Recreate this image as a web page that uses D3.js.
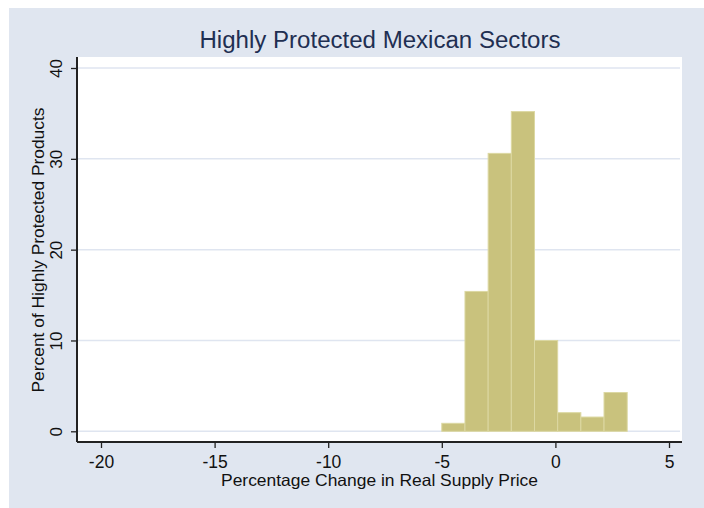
<!DOCTYPE html>
<html><head><meta charset="utf-8">
<script src="https://cdn.jsdelivr.net/npm/d3@7"></script>
<style>body{margin:0;background:#fff}svg{display:block}text{font-family:"Liberation Sans",Arial,sans-serif}</style>
</head><body>
<svg id="c" width="704" height="508"></svg>
<script>
const binStarts = [-5.0, -3.98, -2.96, -1.94, -0.92, 0.10, 1.12, 2.14];
const binWidth = 1.02;
const percents = [0.88, 15.4, 30.6, 35.2, 10.0, 2.05, 1.57, 4.27];
const xTicks = [-20, -15, -10, -5, 0, 5];
const yTicks = [0, 10, 20, 30, 40];
const title = "Highly Protected Mexican Sectors";
const xTitle = "Percentage Change in Real Supply Price";
const yTitle = "Percent of Highly Protected Products";

const svg = d3.select("#c");
svg.append("rect").attr("x",9).attr("y",8).attr("width",695).attr("height",500).attr("fill","#e0e6f0");
const L=77, T=57, R=682, B=442;
svg.append("rect").attr("x",L).attr("y",T).attr("width",R-L).attr("height",B-T).attr("fill","#fff");
const x = d3.scaleLinear().domain([-20,5]).range([101,669]);
const y = d3.scaleLinear().domain([0,40]).range([431.3,68]);
// gridlines
svg.append("g").selectAll("line").data(yTicks).join("line")
  .attr("x1",L+1).attr("x2",R-2).attr("y1",d=>y(d)).attr("y2",d=>y(d))
  .attr("stroke","#dfe5f0").attr("stroke-width",1.5);
// bars
svg.append("g").selectAll("rect").data(percents).join("rect")
  .attr("x",(d,i)=>x(binStarts[i]))
  .attr("width",(d,i)=>x(binStarts[i]+binWidth)-x(binStarts[i]))
  .attr("y",d=>y(d)).attr("height",d=>y(0)-y(d))
  .attr("fill","#c9c27d").attr("stroke","#dcd8a2").attr("stroke-width",1);
// axes
const xa = svg.append("g").attr("transform",`translate(0,${B})`)
  .call(d3.axisBottom(x).tickValues(xTicks).tickSize(6).tickFormat(d3.format("d")));
xa.select(".domain").attr("d",`M${L},0H${R}`).attr("stroke","#222").attr("stroke-width",2);
xa.selectAll(".tick line").attr("stroke","#222").attr("stroke-width",1.3);
xa.selectAll(".tick text").attr("font-size",17.5).attr("fill","#111").attr("font-family","Liberation Sans, Arial, sans-serif")
  .attr("y",26).attr("dy","0").text(d=>d<0?"-"+Math.abs(d):d);
const ya = svg.append("g").attr("transform",`translate(${L},0)`)
  .call(d3.axisLeft(y).tickValues(yTicks).tickSize(6).tickFormat(d3.format("d")));
ya.select(".domain").attr("d",`M0,${T}V${B}`).attr("stroke","#222").attr("stroke-width",2);
ya.selectAll(".tick line").attr("stroke","#222").attr("stroke-width",1.3);
ya.selectAll(".tick text").attr("font-size",17).attr("fill","#111").attr("font-family","Liberation Sans, Arial, sans-serif")
  .attr("transform","rotate(-90)").attr("x",0).attr("y",-15).attr("dy","0").attr("text-anchor","middle");
// titles
svg.append("text").attr("x",380).attr("y",48).attr("text-anchor","middle").attr("font-size",23)
  .attr("fill","#1f2f52").attr("textLength",361).attr("lengthAdjust","spacingAndGlyphs").text(title);
svg.append("text").attr("x",379.5).attr("y",486).attr("text-anchor","middle").attr("font-size",16.5)
  .attr("fill","#111").attr("textLength",317).attr("lengthAdjust","spacingAndGlyphs").text(xTitle);
svg.append("text").attr("transform","translate(44,250) rotate(-90)").attr("text-anchor","middle").attr("font-size",16.5)
  .attr("fill","#111").attr("textLength",285).attr("lengthAdjust","spacingAndGlyphs").text(yTitle);
</script>
</body></html>
